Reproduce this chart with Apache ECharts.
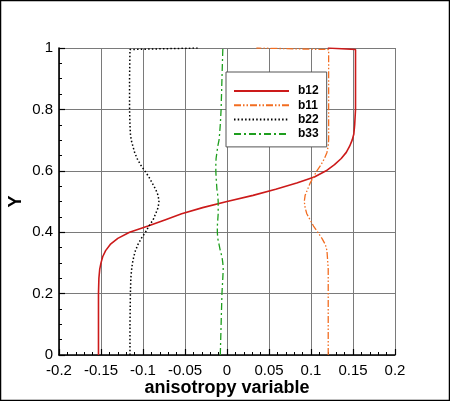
<!DOCTYPE html>
<html>
<head>
<meta charset="utf-8">
<script src="https://cdn.jsdelivr.net/npm/echarts@6/dist/echarts.min.js"></script>
<style>
html,body{margin:0;padding:0;background:#fff;}
#c{width:450px;height:401px;}
</style>
</head>
<body>
<div id="c"></div>
<script>
var Y = [0, 0.1, 0.2, 0.25, 0.28, 0.3, 0.32, 0.34, 0.36, 0.38, 0.4, 0.42, 0.44, 0.46, 0.48, 0.5, 0.52, 0.54, 0.56, 0.58, 0.6, 0.62, 0.64, 0.66, 0.68, 0.7, 0.72, 0.75, 0.8, 0.9, 0.995, 1.0];
var b12 = [-0.153,-0.153,-0.153,-0.1525,-0.1515,-0.150,-0.148,-0.1445,-0.139,-0.130,-0.116,-0.094,-0.074,-0.054,-0.029,0.0,0.031,0.058,0.083,0.104,0.118,0.128,0.136,0.142,0.146,0.149,0.151,0.152,0.153,0.153,0.153,0.12];
var b11 = [0.1205,0.1205,0.1205,0.1205,0.1205,0.120,0.1195,0.119,0.117,0.113,0.108,0.103,0.099,0.095,0.093,0.092,0.093,0.096,0.099,0.103,0.107,0.112,0.116,0.119,0.1205,0.121,0.121,0.121,0.121,0.121,0.121,0.035];
var b22 = [-0.1155,-0.1155,-0.115,-0.1145,-0.1135,-0.1125,-0.111,-0.109,-0.106,-0.102,-0.097,-0.093,-0.088,-0.085,-0.082,-0.081,-0.082,-0.085,-0.089,-0.093,-0.098,-0.103,-0.107,-0.110,-0.112,-0.114,-0.115,-0.1155,-0.116,-0.116,-0.1155,-0.035];
var b33 = [-0.008,-0.007,-0.006,-0.005,-0.0045,-0.005,-0.006,-0.008,-0.0095,-0.011,-0.0115,-0.0115,-0.011,-0.0105,-0.0105,-0.0105,-0.011,-0.012,-0.0125,-0.013,-0.0133,-0.0133,-0.013,-0.012,-0.011,-0.0095,-0.0088,-0.008,-0.007,-0.006,-0.005,-0.005];
var seriesNames = ['b12', 'b11', 'b22', 'b33'];
var xTitle = 'anisotropy variable';
var yTitle = 'Y';

function pairs(xs) { return xs.map(function (x, i) { return [x, Y[i]]; }); }

var styles = {
  b12: { color: '#cc1a1a', width: 1.6, type: 'solid' },
  b11: { color: '#f26d21', width: 1.3, type: [7, 2, 1.5, 2, 1.5, 2] },
  b22: { color: '#000000', width: 1.5, type: [1.5, 2.2] },
  b33: { color: '#1e9e1e', width: 1.3, type: [7, 3, 2, 3] }
};
var dataMap = { b12: b12, b11: b11, b22: b22, b33: b33 };

var chart = echarts.init(document.getElementById('c'), null, { renderer: 'canvas' });
var font = 'Liberation Sans, Arial, Helvetica, sans-serif';
chart.setOption({
  animation: false,
  backgroundColor: '#fff',
  grid: { left: 59, right: 55, top: 48, bottom: 46, containLabel: false, outerBoundsMode: 'none' },
  xAxis: {
    type: 'value', min: -0.2, max: 0.2, interval: 0.05,
    name: xTitle, nameLocation: 'middle', nameGap: 24, nameMoveOverlap: false,
    nameTextStyle: { fontFamily: font, fontWeight: 'bold', fontSize: 18, color: '#000' },
    axisLine: { onZero: false, lineStyle: { color: '#000', width: 1.6 } },
    axisTick: { inside: true, length: 6, lineStyle: { color: '#000', width: 1.2 } },
    minorTick: { show: true, splitNumber: 5, length: 3, lineStyle: { color: '#000', width: 1 } },
    axisLabel: { fontFamily: font, fontSize: 15, color: '#000', margin: 8 },
    splitLine: { show: true, lineStyle: { color: '#7a7a7a', width: 1 } }
  },
  yAxis: {
    type: 'value', min: 0, max: 1, interval: 0.2,
    name: yTitle, nameLocation: 'middle', nameGap: 34, nameMoveOverlap: false,
    nameTextStyle: { fontFamily: font, fontWeight: 'bold', fontSize: 18, color: '#000' },
    axisLine: { onZero: false, lineStyle: { color: '#000', width: 1.6 } },
    axisTick: { inside: true, length: 6, lineStyle: { color: '#000', width: 1.2 } },
    minorTick: { show: true, splitNumber: 4, length: 3, lineStyle: { color: '#000', width: 1 } },
    axisLabel: { fontFamily: font, fontSize: 15, color: '#000', margin: 6 },
    splitLine: { show: true, lineStyle: { color: '#7a7a7a', width: 1 } }
  },
  legend: {
    orient: 'vertical', left: 226, top: 72,
    data: seriesNames,
    backgroundColor: '#fff', borderColor: '#555', borderWidth: 1,
    padding: [13, 8, 7, 7],
    itemWidth: 55, itemHeight: 12, itemGap: 2.3,
    itemStyle: { opacity: 0 },
    textStyle: { fontFamily: font, fontWeight: 'bold', fontSize: 12, color: '#000', padding: [0, 0, 0, 4] }
  },
  graphic: [{
    type: 'rect', silent: true, z: 100,
    shape: { x: 0.5, y: 0.5, width: 449, height: 400 },
    style: { fill: 'none', stroke: '#000', lineWidth: 1.5 }
  }],
  series: seriesNames.map(function (n) {
    var s = styles[n];
    return {
      name: n, type: 'line', symbol: 'none', smooth: false,
      data: pairs(dataMap[n]),
      color: s.color,
      lineStyle: { color: s.color, width: s.width, type: s.type },
      z: 3
    };
  })
});
</script>
</body>
</html>
